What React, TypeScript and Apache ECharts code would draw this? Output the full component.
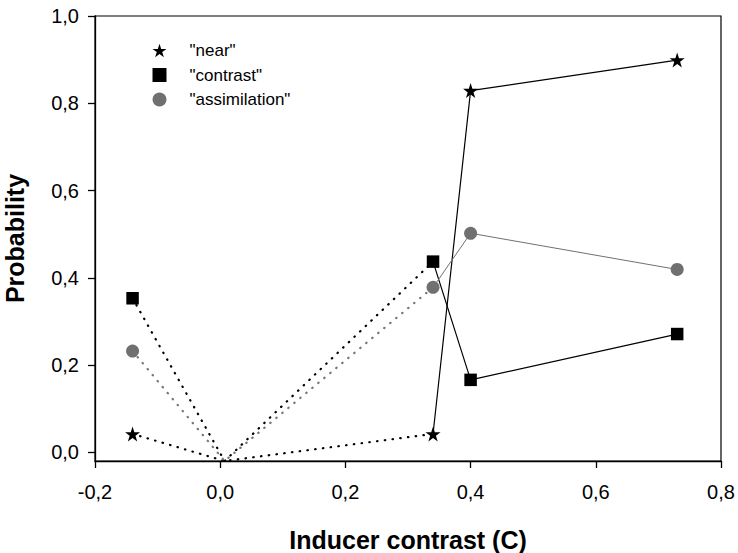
import React, { useEffect, useRef } from "react";
import * as echarts from "echarts";

const xValues = [-0.14, 0.007, 0.34, 0.4, 0.73];
const nearValues = [0.042, -0.02, 0.042, 0.829, 0.899];
const contrastValues = [0.353, -0.02, 0.437, 0.166, 0.271];
const assimilationValues = [0.232, -0.02, 0.378, 0.502, 0.419];
const seriesNames = ['"near"', '"contrast"', '"assimilation"'];
const xTicks = [-0.2, 0, 0.2, 0.4, 0.6, 0.8];
const yTicks = [0, 0.2, 0.4, 0.6, 0.8, 1.0];

const STAR =
  "path://M50,0 L61.8,35.5 L99,35.5 L69,57.5 L80.5,93 L50,71 L19.5,93 L31,57.5 L1,35.5 L38.2,35.5 Z";

const BLACK = "#000000";
const GRAY = "#707070";

const fmt = (v: number) => v.toFixed(1).replace(".", ",");

export default function App() {
  const ref = useRef<HTMLDivElement>(null);
  useEffect(() => {
    document.body.style.margin = "0";
    if (!ref.current) return;
    const chart = echarts.init(ref.current, null, { renderer: "svg" });
    const font = "'Liberation Sans', Arial, sans-serif";
    const defs = [
      { name: seriesNames[0], vals: nearValues, color: BLACK, symbol: STAR, size: 15, width: 1.2, dot: BLACK },
      { name: seriesNames[1], vals: contrastValues, color: BLACK, symbol: "rect", size: 12.5, width: 1.2, dot: BLACK },
      { name: seriesNames[2], vals: assimilationValues, color: GRAY, symbol: "circle", size: 13, width: 1, dot: "#777777" },
    ];
    const series: any[] = [];
    defs.forEach((d) => {
      const pts = xValues.map((x, i) => [x, d.vals[i]]);
      series.push({
        name: d.name + "_dotted",
        type: "line",
        data: pts.slice(0, 3),
        symbol: "none",
        lineStyle: { color: d.dot, width: 2.2, type: [0.5, 7.3], cap: "round" },
        z: 2,
      });
      series.push({
        name: d.name + "_solid",
        type: "line",
        data: pts.slice(2),
        symbol: "none",
        lineStyle: { color: d.color, width: d.width, type: "solid" },
        z: 2,
      });
      series.push({
        name: d.name,
        type: "scatter",
        data: pts.filter((_, i) => i !== 1),
        symbol: d.symbol,
        symbolSize: d.size,
        itemStyle: { color: d.color, opacity: 1 },
        z: 5,
      });
    });
    chart.setOption({
      animation: false,
      backgroundColor: "#ffffff",
      grid: {
        left: 95,
        right: 17,
        top: 16,
        bottom: 92,
        outerBoundsMode: "none",
        containLabel: false,
        show: true,
        borderColor: BLACK,
        borderWidth: 1.2,
      },
      legend: {
        orient: "vertical",
        left: 147.5,
        top: 37,
        itemGap: 7.5,
        itemWidth: 14,
        itemHeight: 14,
        textStyle: { fontFamily: font, fontSize: 17, lineHeight: 17, color: BLACK, padding: [0, 0, 0, 18] },
        data: [
          { name: seriesNames[0], icon: STAR, itemStyle: { color: BLACK } },
          { name: seriesNames[1], icon: "rect", itemStyle: { color: BLACK } },
          { name: seriesNames[2], icon: "circle", itemStyle: { color: GRAY } },
        ],
      },
      xAxis: {
        type: "value",
        min: xTicks[0],
        max: xTicks[xTicks.length - 1],
        interval: 0.2,
        name: "Inducer contrast (C)",
        nameLocation: "middle",
        nameGap: 66,
        nameTextStyle: { fontFamily: font, fontSize: 25, fontWeight: "bold", color: BLACK },
        axisLine: { show: true, onZero: false, lineStyle: { color: BLACK, width: 1.3 } },
        axisTick: { show: true, inside: false, length: 7, lineStyle: { color: BLACK, width: 1.3 } },
        axisLabel: {
          fontFamily: font,
          fontSize: 20,
          color: BLACK,
          margin: 21,
          formatter: fmt,
        },
        splitLine: { show: false },
      },
      yAxis: {
        type: "value",
        min: -0.02,
        max: 1.0,
        name: "Probability",
        nameLocation: "middle",
        nameGap: 68,
        nameTextStyle: { fontFamily: font, fontSize: 25, fontWeight: "bold", color: BLACK },
        axisLine: { show: true, onZero: false, lineStyle: { color: BLACK, width: 1.3 } },
        axisTick: {
          show: true,
          inside: false,
          length: 7,
          customValues: yTicks,
          lineStyle: { color: BLACK, width: 1.3 },
        },
        axisLabel: {
          fontFamily: font,
          fontSize: 20,
          color: BLACK,
          margin: 16,
          customValues: yTicks,
          formatter: fmt,
        },
        splitLine: { show: false },
      },
      series,
    });
    return () => chart.dispose();
  }, []);
  return <div ref={ref} style={{ width: 738, height: 553 }} />;
}
